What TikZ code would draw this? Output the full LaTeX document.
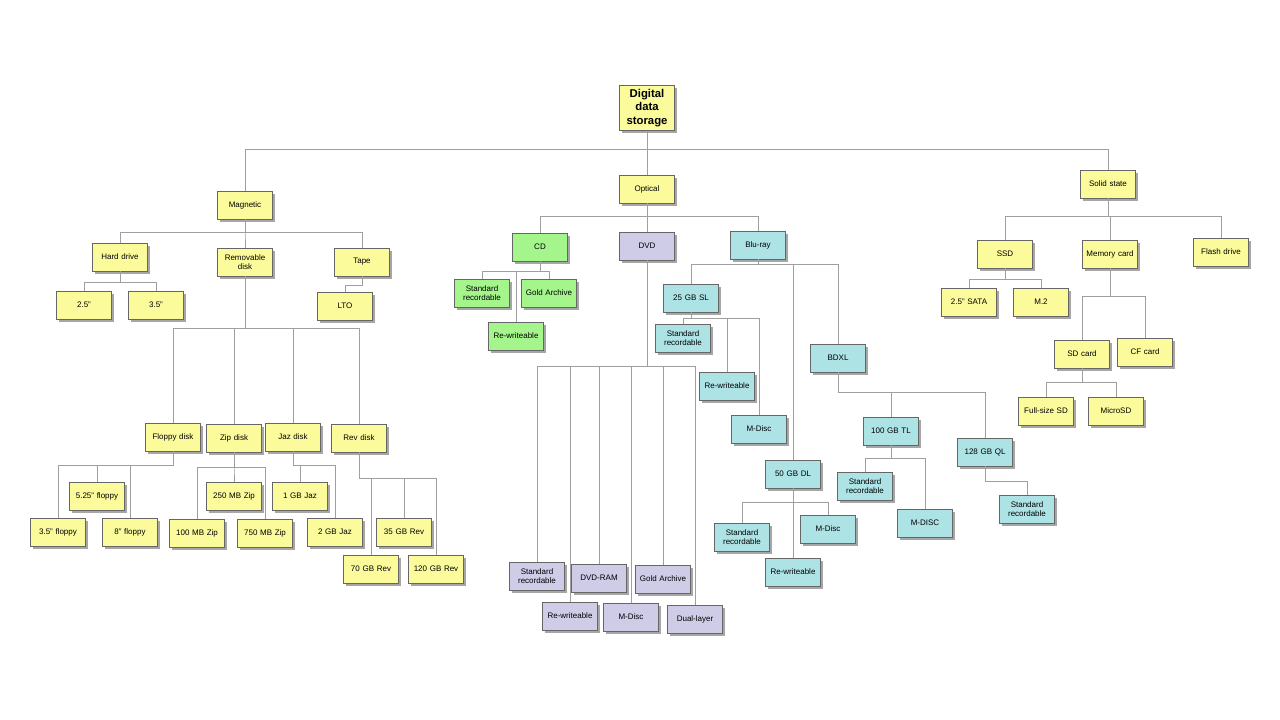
\documentclass[tikz,border=0pt]{standalone}
\usepackage{fontspec}
\setmainfont{Liberation Sans}
\usetikzlibrary{shadows}
\definecolor{cy}{HTML}{FBFB9C}
\definecolor{cg}{HTML}{A4F58C}
\definecolor{cp}{HTML}{CFCCE8}
\definecolor{cc}{HTML}{AEE3E6}
\tikzset{
 bx/.style={draw=gray!80!black,line width=0.4pt,minimum width=41pt,minimum height=21pt,inner sep=1pt,align=center,font=\fontsize{6}{7}\selectfont,text width=39pt,
  drop shadow={shadow xshift=2pt,shadow yshift=-2pt,fill=gray!70,opacity=1}},
 yb/.style={bx,fill=cy},gb/.style={bx,fill=cg},pb/.style={bx,fill=cp},cb/.style={bx,fill=cc},
 ln/.style={draw=gray!75,line width=0.6pt}
}
\newcommand\conn[3]{\draw[ln] (#1.south) -- (#1.south |- 0,#3) -| (#2.north);}
\begin{document}
\begin{tikzpicture}[x=0.75pt,y=-0.75pt]
\useasboundingbox (0,0) rectangle (1280,720);
\node[yb,minimum height=34pt,font=\fontsize{8.5}{10}\selectfont\bfseries] (root) at (647,108) {Digital\\data\\storage};
\node[yb] (mag) at (245,205) {Magnetic};
\node[yb] (opt) at (647,189) {Optical};
\node[yb] (ss) at (1108,184) {Solid state};
% magnetic
\node[yb] (hd) at (120,257) {Hard drive};
\node[yb] (rd) at (245,262) {Removable\\disk};
\node[yb] (tp) at (362,262) {Tape};
\node[yb] (h25) at (84,305) {2.5"};
\node[yb] (h35) at (156,305) {3.5"};
\node[yb] (lto) at (345,306) {LTO};
\node[yb] (fl) at (173,437) {Floppy disk};
\node[yb] (zip) at (234,438) {Zip disk};
\node[yb] (jaz) at (293,437) {Jaz disk};
\node[yb] (rev) at (359,438) {Rev disk};
\node[yb] (f525) at (97,496) {5.25" floppy};
\node[yb] (f35) at (58,532) {3.5" floppy};
\node[yb] (f8) at (130,532) {8" floppy};
\node[yb] (z250) at (234,496) {250 MB Zip};
\node[yb] (z100) at (197,533) {100 MB Zip};
\node[yb] (z750) at (265,533) {750 MB Zip};
\node[yb] (j1) at (300,496) {1 GB Jaz};
\node[yb] (j2) at (335,532) {2 GB Jaz};
\node[yb] (r35) at (404,532) {35 GB Rev};
\node[yb] (r70) at (371,569) {70 GB Rev};
\node[yb] (r120) at (436,569) {120 GB Rev};
% optical
\node[gb] (cd) at (540,247) {CD};
\node[pb] (dvd) at (647,246) {DVD};
\node[cb] (br) at (758,245) {Blu-ray};
\node[gb] (cdsr) at (482,293) {Standard\\recordable};
\node[gb] (cdga) at (549,293) {Gold Archive};
\node[gb] (cdrw) at (516,336) {Re-writeable};
\node[pb] (dsr) at (537,576) {Standard\\recordable};
\node[pb] (drw) at (570,616) {Re-writeable};
\node[pb] (dram) at (599,578) {DVD-RAM};
\node[pb] (dm) at (631,617) {M-Disc};
\node[pb] (dga) at (663,579) {Gold Archive};
\node[pb] (ddl) at (695,619) {Dual-layer};
\node[cb] (sl) at (691,298) {25 GB SL};
\node[cb] (slsr) at (683,338) {Standard\\recordable};
\node[cb] (slrw) at (727,386) {Re-writeable};
\node[cb] (slm) at (759,429) {M-Disc};
\node[cb] (dl) at (793,474) {50 GB DL};
\node[cb] (dlsr) at (742,537) {Standard\\recordable};
\node[cb] (dlm) at (828,529) {M-Disc};
\node[cb] (dlrw) at (793,572) {Re-writeable};
\node[cb] (bdxl) at (838,358) {BDXL};
\node[cb] (tl) at (891,431) {100 GB TL};
\node[cb] (ql) at (985,452) {128 GB QL};
\node[cb] (tlsr) at (865,486) {Standard\\recordable};
\node[cb] (tlm) at (925,523) {M-DISC};
\node[cb] (qlsr) at (1027,509) {Standard\\recordable};
% solid state
\node[yb] (ssd) at (1005,254) {SSD};
\node[yb] (mc) at (1110,254) {Memory card};
\node[yb] (fd) at (1221,252) {Flash drive};
\node[yb] (sata) at (969,302) {2.5" SATA};
\node[yb] (m2) at (1041,302) {M.2};
\node[yb] (sd) at (1082,354) {SD card};
\node[yb] (cf) at (1145,352) {CF card};
\node[yb] (fsd) at (1046,411) {Full-size SD};
\node[yb] (msd) at (1116,411) {MicroSD};
% connectors
\begin{scope}[on background layer/.style={}]
\conn{root}{mag}{149}\conn{root}{opt}{149}\conn{root}{ss}{149}
\conn{mag}{hd}{232}\conn{mag}{rd}{232}\conn{mag}{tp}{232}
\conn{hd}{h25}{282}\conn{hd}{h35}{282}\conn{tp}{lto}{285}
\conn{rd}{fl}{328}\conn{rd}{zip}{328}\conn{rd}{jaz}{328}\conn{rd}{rev}{328}
\conn{fl}{f525}{465}\conn{fl}{f35}{465}\conn{fl}{f8}{465}
\conn{zip}{z250}{467}\conn{zip}{z100}{467}\conn{zip}{z750}{467}
\conn{jaz}{j1}{465}\conn{jaz}{j2}{465}
\conn{rev}{r35}{478}\conn{rev}{r70}{478}\conn{rev}{r120}{478}
\conn{opt}{cd}{216}\conn{opt}{dvd}{216}\conn{opt}{br}{216}
\conn{cd}{cdsr}{271}\conn{cd}{cdga}{271}\conn{cd}{cdrw}{271}
\conn{dvd}{dsr}{366}\conn{dvd}{drw}{366}\conn{dvd}{dram}{366}\conn{dvd}{dm}{366}\conn{dvd}{dga}{366}\conn{dvd}{ddl}{366}
\conn{br}{sl}{264}\conn{br}{dl}{264}\conn{br}{bdxl}{264}
\conn{sl}{slsr}{318}\conn{sl}{slrw}{318}\conn{sl}{slm}{318}
\conn{dl}{dlsr}{502}\conn{dl}{dlm}{502}\conn{dl}{dlrw}{502}
\conn{bdxl}{tl}{392}\conn{bdxl}{ql}{392}
\conn{tl}{tlsr}{458}\conn{tl}{tlm}{458}
\conn{ql}{qlsr}{481}
\conn{ss}{ssd}{216}\conn{ss}{mc}{216}\conn{ss}{fd}{216}
\conn{ssd}{sata}{279}\conn{ssd}{m2}{279}
\conn{mc}{sd}{296}\conn{mc}{cf}{296}
\conn{sd}{fsd}{382}\conn{sd}{msd}{382}
\end{scope}
\end{tikzpicture}
\end{document}
